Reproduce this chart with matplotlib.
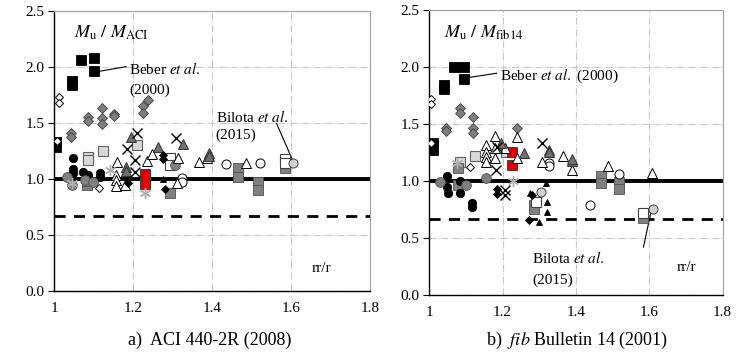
import matplotlib
matplotlib.use("Agg")
import matplotlib.pyplot as plt

plt.rcParams['font.family'] = ['Liberation Serif', 'DejaVu Serif']
plt.rcParams['mathtext.fontset'] = 'stix'

# ---------------- panel a) ACI 440-2R ----------------
aci_blk_sq_x = [1.005, 1.005, 1.044, 1.044, 1.068, 1.101, 1.101]
aci_blk_sq_y = [1.33, 1.28, 1.87, 1.84, 2.06, 2.08, 1.96]
aci_wht_dm_x = [1.013, 1.013, 1.008, 1.114]
aci_wht_dm_y = [1.727, 1.68, 1.336, 0.914]
aci_gry_dm_x = [1.042, 1.042, 1.086, 1.086, 1.12, 1.12, 1.12, 1.152, 1.152, 1.224, 1.238, 1.224]
aci_gry_dm_y = [1.405, 1.375, 1.554, 1.518, 1.628, 1.538, 1.488, 1.577, 1.56, 1.649, 1.702, 1.583]
aci_lgt_sq_x = [1.086, 1.086, 1.124, 1.209]
aci_lgt_sq_y = [1.196, 1.17, 1.25, 1.30]
aci_blk_ci_x = [1.048, 1.048, 1.048, 1.073, 1.116, 1.116, 1.086]
aci_blk_ci_y = [1.182, 1.084, 1.05, 1.063, 1.054, 1.018, 1.033]
aci_gry_ci_x = [1.031, 1.044, 1.078, 1.099, 1.306]
aci_gry_ci_y = [1.012, 0.944, 0.988, 0.973, 1.122]
aci_wht_ci_x = [1.324, 1.324, 1.436, 1.521]
aci_wht_ci_y = [1.003, 0.97, 1.131, 1.143]
aci_lgt_ci_x = [1.605]
aci_lgt_ci_y = [1.143]
aci_cross_x = [1.183, 1.209, 1.204, 1.204, 1.308]
aci_cross_y = [1.265, 1.405, 1.167, 1.063, 1.361]
aci_star_x = [1.044, 1.141, 1.231]
aci_star_y = [0.959, 1.078, 0.87]
aci_wht_tr_x = [1.158, 1.156, 1.156, 1.156, 1.179, 1.234, 1.247, 1.314, 1.311, 1.367, 1.387, 1.485]
aci_wht_tr_y = [1.152, 1.033, 0.985, 0.935, 0.944, 1.158, 1.218, 1.182, 0.964, 1.152, 1.182, 1.143]
aci_dk_tr_x = [1.194, 1.181, 1.181, 1.264, 1.325, 1.392, 1.392]
aci_dk_tr_y = [1.37, 1.107, 1.07, 1.286, 1.31, 1.227, 1.2]
aci_blk_tr_x = [1.276]
aci_blk_tr_y = [0.997]
aci_blk_dm_x = [1.188, 1.276, 1.276, 1.28]
aci_blk_dm_y = [0.959, 1.21, 1.18, 0.905]
aci_gry_sq_x = [1.082, 1.082, 1.293, 1.466, 1.466, 1.515, 1.515, 1.584]
aci_gry_sq_y = [0.944, 0.982, 0.87, 1.092, 1.012, 0.973, 0.899, 1.093]
aci_wht_sq_x = [1.293, 1.293, 1.584, 1.584]
aci_wht_sq_y = [1.182, 1.122, 1.173, 1.137]
aci_red_sq_x = [1.231, 1.231]
aci_red_sq_y = [1.039, 0.95]

# ---------------- panel b) fib Bulletin 14 ----------------
fib_blk_sq_x = [1.009, 1.009, 1.041, 1.041, 1.068, 1.095, 1.095]
fib_blk_sq_y = [1.33, 1.272, 1.84, 1.81, 2.003, 2.003, 1.895]
fib_wht_dm_x = [1.006, 1.006, 1.004, 1.111]
fib_wht_dm_y = [1.716, 1.675, 1.33, 1.125]
fib_gry_dm_x = [1.045, 1.045, 1.084, 1.084, 1.12, 1.12, 1.12, 1.238]
fib_gry_dm_y = [1.462, 1.44, 1.637, 1.594, 1.559, 1.465, 1.42, 1.462]
fib_lgt_sq_x = [1.084, 1.125, 1.209]
fib_lgt_sq_y = [1.169, 1.222, 1.257]
fib_blk_ci_x = [1.047, 1.047, 1.052, 1.084, 1.084, 1.116, 1.116]
fib_blk_ci_y = [1.044, 0.945, 0.892, 1.0, 0.892, 0.804, 0.775]
fib_gry_ci_x = [1.029, 1.1, 1.155]
fib_gry_ci_y = [0.994, 0.965, 1.023]
fib_wht_ci_x = [1.326, 1.326, 1.518, 1.438]
fib_wht_ci_y = [1.16, 1.13, 1.061, 0.79]
fib_lgt_ci_x = [1.609, 1.305]
fib_lgt_ci_y = [0.754, 0.9]
fib_cross_x = [1.307, 1.184, 1.181, 1.206, 1.206]
fib_cross_y = [1.336, 1.30, 1.096, 0.921, 0.877]
fib_star_x = [1.075, 1.229]
fib_star_y = [1.16, 1.003]
fib_wht_tr_x = [1.155, 1.155, 1.155, 1.155, 1.179, 1.179, 1.179, 1.206, 1.238, 1.238, 1.307, 1.364, 1.39, 1.488, 1.606]
fib_wht_tr_y = [1.316, 1.257, 1.213, 1.17, 1.395, 1.287, 1.2, 1.287, 1.383, 1.2, 1.17, 1.22, 1.096, 1.132, 1.067]
fib_dk_tr_x = [1.195, 1.258, 1.326, 1.326, 1.39, 1.39]
fib_dk_tr_y = [1.33, 1.243, 1.272, 1.25, 1.178, 1.19]
fib_blk_tr_x = [1.318, 1.275, 1.322, 1.322, 1.299]
fib_blk_tr_y = [0.98, 0.897, 0.818, 0.73, 0.64]
fib_blk_dm_x = [1.186, 1.186, 1.279, 1.273]
fib_blk_dm_y = [0.927, 0.885, 0.877, 0.66]
fib_gry_sq_x = [1.077, 1.077, 1.286, 1.286, 1.468, 1.468, 1.518, 1.518, 1.584]
fib_gry_sq_y = [1.111, 0.965, 0.79, 0.755, 1.044, 0.98, 0.994, 0.927, 0.673]
fib_wht_sq_x = [1.29, 1.584]
fib_wht_sq_y = [0.818, 0.716]
fib_red_sq_x = [1.225, 1.225]
fib_red_sq_y = [1.257, 1.14]

x_ticks = [1, 1.2, 1.4, 1.6, 1.8]
x_tick_labels = ['1', '1.2', '1.4', '1.6', '1.8']
y_ticks = [0.0, 0.5, 1.0, 1.5, 2.0, 2.5]
y_tick_labels = ['0.0', '0.5', '1.0', '1.5', '2.0', '2.5']
limit_ref = 1.0
limit_low = 0.667

# marker styles: (marker, face, edge, size, edge width)
styles = {
    'blk_sq': ('s', 'black', 'black', 6.5, 0.6),
    'wht_dm': ('D', 'white', 'black', 4.5, 0.7),
    'gry_dm': ('D', '#7f7f7f', '#404040', 5.5, 0.6),
    'lgt_sq': ('s', '#d9d9d9', '#606060', 7.0, 0.8),
    'blk_ci': ('o', 'black', 'black', 6.0, 0.6),
    'gry_ci': ('o', '#808080', '#505050', 7.0, 0.6),
    'wht_ci': ('o', 'white', 'black', 6.5, 0.7),
    'lgt_ci': ('o', '#d0d0d0', '#404040', 6.5, 0.7),
    'cross': ('x', 'black', 'black', 7.0, 1.0),
    'star': ((6, 2, 0), '#b0b0b0', '#b0b0b0', 8.0, 1.0),
    'wht_tr': ('^', 'white', 'black', 7.0, 0.7),
    'dk_tr': ('^', '#707070', '#303030', 7.0, 0.7),
    'blk_tr': ('^', 'black', 'black', 5.0, 0.6),
    'blk_dm': ('D', 'black', 'black', 4.5, 0.6),
    'gry_sq': ('s', '#808080', '#505050', 7.5, 0.6),
    'wht_sq': ('s', 'white', '#404040', 7.0, 0.8),
    'red_sq': ('s', '#e00000', '#404040', 7.0, 0.7),
}
order = ['blk_sq', 'wht_dm', 'gry_dm', 'lgt_sq', 'gry_sq', 'wht_sq', 'red_sq', 'blk_ci',
         'gry_ci', 'wht_ci', 'lgt_ci', 'wht_tr', 'dk_tr', 'blk_tr', 'blk_dm', 'cross', 'star']

g = globals()

fig = plt.figure(figsize=(7.45, 3.55), dpi=100)
ax1 = fig.add_axes([0.0729, 0.181, 0.4237, 0.789])
ax2 = fig.add_axes([0.5762, 0.169, 0.3938, 0.803])

for ax, pre in [(ax1, 'aci'), (ax2, 'fib')]:
    ax.set_xlim(1, 1.8)
    ax.set_ylim(0, 2.5)
    ax.set_xticks(x_ticks)
    ax.set_xticklabels(x_tick_labels)
    ax.set_yticks(y_ticks)
    ax.set_yticklabels(y_tick_labels)
    ax.tick_params(axis='x', length=0, pad=8, labelsize=11)
    ax.tick_params(axis='y', length=4, direction='out', pad=3, labelsize=11)
    ax.grid(True, color='#c8c8c8', linestyle='-.', linewidth=0.8)
    ax.set_axisbelow(True)
    for s in ['top', 'right']:
        ax.spines[s].set_color('#a0a0a0')
    ax.spines['left'].set_linewidth(1.0)
    ax.spines['bottom'].set_linewidth(1.0)
    ax.axhline(limit_ref, color='black', linewidth=2.8, zorder=2)
    ax.axhline(limit_low, color='black', linewidth=2.0, linestyle=(0, (4, 3)), zorder=2)
    for k in order:
        m, fc, ec, ms, mew = styles[k]
        ax.plot(g[pre + '_' + k + '_x'], g[pre + '_' + k + '_y'], linestyle='none',
                marker=m, markerfacecolor=fc, markeredgecolor=ec, markersize=ms,
                markeredgewidth=mew, zorder=3)

# panel a texts
ax1.text(1.05, 2.3, r'$M_\mathrm{u}\ /\ M_\mathrm{ACI}$', fontsize=13, va='center')
ax1.plot([1.116, 1.182], [1.96, 2.0], color='black', linewidth=0.8)
ax1.text(1.19, 1.98, r'Beber $\mathit{et\ al.}$', fontsize=11, va='center')
ax1.text(1.19, 1.79, '(2000)', fontsize=11, va='center')
ax1.plot([1.563, 1.603], [1.495, 1.173], color='black', linewidth=0.8)
ax1.text(1.409, 1.554, r'Bilota $\mathit{et\ al.}$', fontsize=11, va='center')
ax1.text(1.409, 1.39, '(2015)', fontsize=11, va='center')
ax1.text(1.678, 0.2, 'rr/r', fontsize=11, va='center', ha='center')

# panel b texts
ax2.text(1.04, 2.3, r'$M_\mathrm{u}\ /\ M_\mathrm{fib14}$', fontsize=13, va='center')
ax2.plot([1.104, 1.184], [1.906, 1.945], color='black', linewidth=0.8)
ax2.text(1.193, 1.92, r'Beber $\mathit{et\ al.}$ (2000)', fontsize=11, va='center')
ax2.plot([1.605, 1.584], [0.735, 0.42], color='black', linewidth=0.8)
ax2.text(1.28, 0.325, r'Bilota $\mathit{et\ al.}$', fontsize=11, va='center')
ax2.text(1.28, 0.13, '(2015)', fontsize=11, va='center')
ax2.text(1.70, 0.237, 'rr/r', fontsize=11, va='center', ha='center')

fig.text(210 / 745, 1 - 340 / 355, 'a)  ACI 440-2R (2008)', fontsize=13, ha='center', va='center')
fig.text(577 / 745, 1 - 340 / 355, r'b)  $\mathit{fib}$ Bulletin 14 (2001)', fontsize=13,
         ha='center', va='center')

fig.savefig('out.png', dpi=100)
